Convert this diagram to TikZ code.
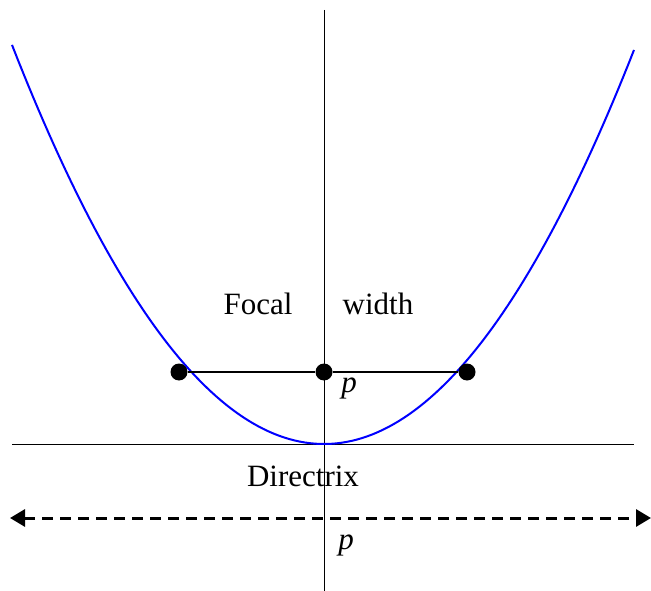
\documentclass[tikz,border=0pt]{standalone}
\usepackage{fontspec}
\setmainfont{Liberation Serif}
\usetikzlibrary{arrows.meta}
\begin{document}
\begin{tikzpicture}[x=1pt,y=-1pt,
  dot/.style={circle,fill=black,inner sep=0pt,minimum size=17pt},
  lbl/.style={font=\fontsize{31}{35}\selectfont,inner sep=0pt},
  thin line/.style={line width=1pt},
  chord/.style={line width=2.2pt},
  dashline/.style={line width=3pt,dash pattern=on 11pt off 7pt,{Triangle[length=15pt,width=17pt]}-{Triangle[length=15pt,width=17pt]}}]
\useasboundingbox (0,0) rectangle (651,591);
% axis
\coordinate (axtop) at (324,10);
\coordinate (axbot) at (324,591);
\draw[thin line] (axtop) -- (axbot);
% tangent line at vertex
\coordinate (hl) at (12,444);
\coordinate (hr) at (634,444);
\draw[thin line] (hl) -- (hr);
% parabola
\draw[blue,line width=2pt] plot[domain=12:634,samples=120] (\x,{444-41*((\x-324)/100)*((\x-324)/100)});
% focal chord
\node[dot] (L) at (179,372) {};
\node[dot] (F) at (324,372) {};
\node[dot] (R) at (467,372) {};
\draw[chord] (L) -- (F) -- (R);
% labels
\node[lbl] (focal) at (258,304) {Focal};
\node[lbl] (width) at (378,304) {width};
\node[lbl] (p1) at (349,388) {\itshape p};
\node[lbl] (dir) at (303,476) {Directrix};
\node[lbl] (p2) at (346,545) {\itshape p};
% directrix dashed
\coordinate (dl) at (10,518);
\coordinate (dr) at (651,518);
\draw[dashline] (dl) -- (dr);
\end{tikzpicture}
\end{document}
